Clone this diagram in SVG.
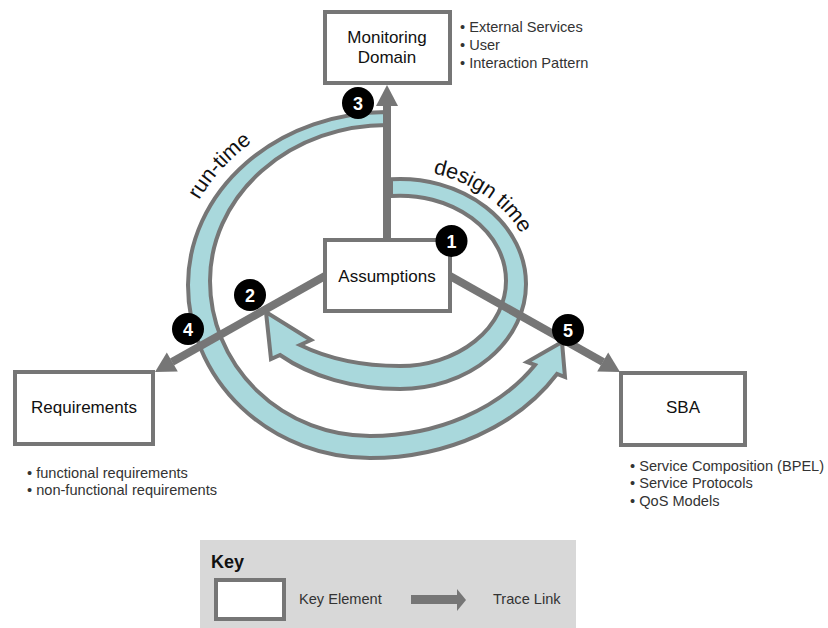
<svg xmlns="http://www.w3.org/2000/svg" width="828" height="628" viewBox="0 0 828 628">
<defs>
<style>
.box{fill:#fff;stroke:#767676;stroke-width:4}
.band{fill:#a9d8dc;stroke:#767676;stroke-width:4;stroke-linejoin:miter}
.shaft{stroke:#767676;stroke-width:8;fill:none}
.head{fill:#767676}
.lbl{font-family:"Liberation Sans",Arial,sans-serif;font-size:17px;fill:#111;text-anchor:middle}
.bul{font-family:"Liberation Sans",Arial,sans-serif;font-size:14.6px;fill:#333}
.num{font-family:"Liberation Sans",Arial,sans-serif;font-size:18px;font-weight:bold;fill:#fff;text-anchor:middle}
.arc{font-family:"Liberation Sans",Arial,sans-serif;font-size:21.5px;fill:#111}
</style>
<path id="rtPath" d="M 199 200 A 213 186 0 0 1 351 102" fill="none"/>
<path id="dtPath" d="M 433 173.5 A 135 114 0 0 1 535 284" fill="none"/>
</defs>

<g id="key">
<rect x="200" y="540" width="376" height="88" fill="#d8d8d8"/>
<text x="211" y="568" font-family="Liberation Sans, Arial, sans-serif" font-size="18" font-weight="bold" fill="#111">Key</text>
<rect class="box" x="216" y="580" width="68" height="39"/>
<text class="bul" x="299" y="604">Key Element</text>
<rect x="411" y="595" width="47" height="9" fill="#767676"/>
<polygon points="457,589 466,600 457,611" fill="#767676"/>
<text class="bul" x="493" y="604">Trace Link</text>
</g>

<g id="bands">
<path id="runtime-band" class="band" d="M 387 112 A 200 173 0 0 0 188 285 A 182 173 0 0 0 370 458 A 218 173 0 0 0 557 374 L 565 377 L 562 342 L 527 362 L 535 365 A 196 155 0 0 1 370 436 A 160 155 0 0 1 210 281 A 177 156 0 0 1 387 125 Z"/>
<path id="designtime-band" class="band" d="M 391 179.3 A 126 105 0 0 1 526 284 A 126 105 0 0 1 400 389 A 163 105 0 0 1 280 355 L 271 359 L 266 312 L 311 340 L 300 345 A 152 85 0 0 0 400 366 A 106 85 0 0 0 506 281 A 106 85 0 0 0 391 196 Z"/>
<text class="arc"><textPath href="#rtPath">run-time</textPath></text>
<text class="arc"><textPath href="#dtPath">design</textPath></text>
<text class="arc"><textPath href="#dtPath" startOffset="69.3">time</textPath></text>
</g>

<g id="connectors">
<line class="shaft" x1="387" y1="240" x2="387" y2="104"/>
<polygon class="head" points="387,85 398,106 376,106"/>
<line class="shaft" x1="325" y1="276" x2="172" y2="362"/>
<polygon class="head" points="155,372 177.8,371.5 166.8,352.5"/>
<line class="shaft" x1="450" y1="276" x2="603" y2="362"/>
<polygon class="head" points="620,372 597.2,371.5 608.2,352.5"/>
</g>

<g id="monitoring">
<rect class="box" x="325" y="12" width="125" height="71"/>
<text class="lbl" x="387" y="43">Monitoring</text>
<text class="lbl" x="387" y="63">Domain</text>
<text class="bul" x="460" y="32">• External Services</text>
<text class="bul" x="460" y="50">• User</text>
<text class="bul" x="460" y="68">• Interaction Pattern</text>
</g>

<g id="assumptions">
<rect class="box" x="325" y="240" width="125" height="71"/>
<text class="lbl" x="387" y="282">Assumptions</text>
</g>

<g id="requirements">
<rect class="box" x="15" y="372" width="138" height="72"/>
<text class="lbl" x="84" y="413">Requirements</text>
<text class="bul" x="27" y="478">• functional requirements</text>
<text class="bul" x="27" y="495">• non-functional requirements</text>
</g>

<g id="sba">
<rect class="box" x="621" y="373" width="124" height="72"/>
<text class="lbl" x="683" y="413">SBA</text>
<text class="bul" x="630" y="471">• Service Composition (BPEL)</text>
<text class="bul" x="630" y="488">• Service Protocols</text>
<text class="bul" x="630" y="506">• QoS Models</text>
</g>

<g id="markers">
<g id="m1"><circle cx="451.5" cy="241" r="16" fill="#000"/><text class="num" x="451.5" y="247.5">1</text></g>
<g id="m2"><circle cx="250" cy="295" r="16" fill="#000"/><text class="num" x="250" y="301.5">2</text></g>
<g id="m3"><circle cx="358" cy="103" r="16" fill="#000"/><text class="num" x="358" y="109.5">3</text></g>
<g id="m4"><circle cx="188" cy="329" r="16" fill="#000"/><text class="num" x="188" y="335.5">4</text></g>
<g id="m5"><circle cx="568" cy="330" r="16" fill="#000"/><text class="num" x="568" y="336.5">5</text></g>
</g>
</svg>
